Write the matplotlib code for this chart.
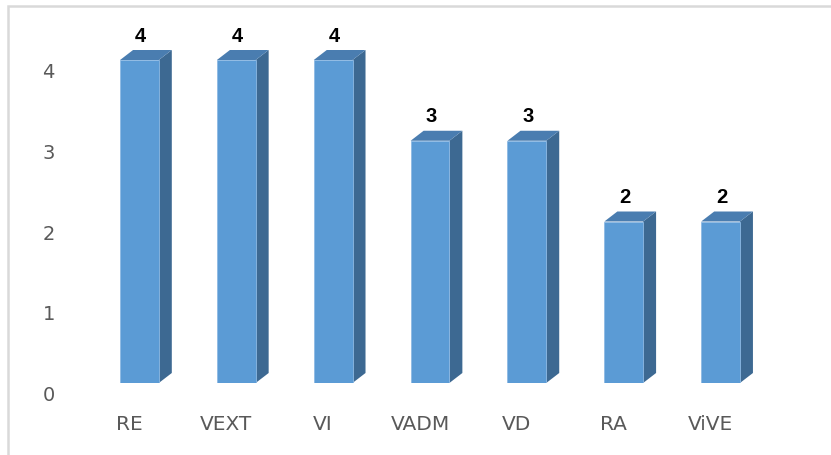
import matplotlib
matplotlib.use("Agg")
import matplotlib.pyplot as plt
from matplotlib.patches import Polygon, Rectangle
from matplotlib.transforms import ScaledTranslation

categories = ["RE", "VEXT", "VI", "VADM", "VD", "RA", "ViVE"]
values = [4, 4, 4, 3, 3, 2, 2]
yticks = [0, 1, 2, 3, 4]

front_col = "#5B9BD5"
side_col = "#3D6992"
top_col = "#4A7DB0"
text_col = "#595959"

W, H = 831, 456
fig = plt.figure(figsize=(W / 100, H / 100), dpi=100)

# plot area in pixels (bar baseline at y=384 from top, 80.75 px per unit)
left, right = 91, 769
base = H - 384
unit = 80.75
ax = fig.add_axes([left / W, base / H, (right - left) / W, 4.5 * unit / H])
ax.set_xlim(-0.5, len(categories) - 0.5)
ax.set_ylim(0, 4.5)
for s in ax.spines.values():
    s.set_visible(False)

x = list(range(len(categories)))
bw = 0.40
ax.bar(x, values, width=bw, color=front_col, edgecolor="#8DB9E4", linewidth=0.6, zorder=3)

# depth of the 3D look: 13 px right, 10 px up
dx = 13 / ((right - left) / len(categories))
dy = 10 / unit
for xi, v in zip(x, values):
    xr = xi + bw / 2
    xl = xi - bw / 2
    side = Polygon([(xr, 0), (xr + dx, dy), (xr + dx, v + dy), (xr, v)],
                   closed=True, facecolor=side_col, edgecolor="none", zorder=2, clip_on=False)
    top = Polygon([(xl, v), (xr, v), (xr + dx, v + dy), (xl + dx, v + dy)],
                  closed=True, facecolor=top_col, edgecolor="none", zorder=2, clip_on=False)
    ax.add_patch(side)
    ax.add_patch(top)
    ax.annotate(str(v), (xi + 0.01, v), xytext=(0, 11), textcoords="offset points",
                ha="center", va="bottom", fontsize=14.5, fontweight="bold",
                family="Liberation Sans", color="black")

ax.set_yticks(yticks)
ax.set_yticklabels([str(t) for t in yticks])
ax.set_xticks(x)
ax.set_xticklabels(categories)
ax.tick_params(axis="both", length=0, colors=text_col, labelsize=14)
ax.tick_params(axis="x", labelsize=14.5)
ax.tick_params(axis="y", pad=26)
ax.tick_params(axis="x", pad=22)

for lbl in ax.get_yticklabels():
    lbl.set_transform(lbl.get_transform() + ScaledTranslation(0, -9.5 / 100, fig.dpi_scale_trans))
for lbl in ax.get_xticklabels():
    lbl.set_transform(lbl.get_transform() + ScaledTranslation(-10 / 100, 0, fig.dpi_scale_trans))

# chart border (right and bottom edges fall outside the image)
fig.patches.append(Rectangle((8 / W, -0.1), 1.2, (H - 6.5) / H + 0.1, transform=fig.transFigure,
                             fill=False, edgecolor="#D9D9D9", linewidth=1.8, figure=fig))

fig.savefig("out.png", dpi=100)
